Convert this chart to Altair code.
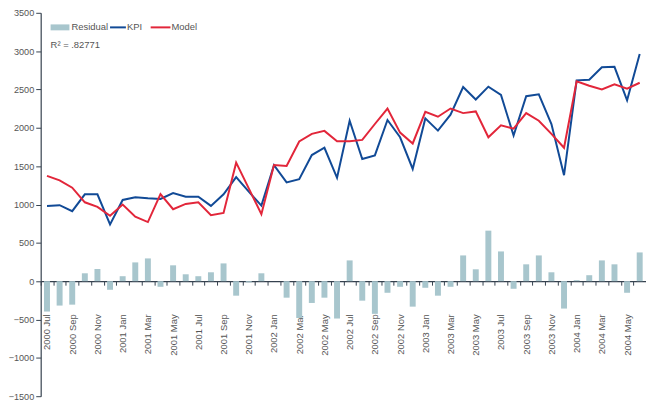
import altair as alt
import pandas as pd

months = [
    "2000 Jul", "2000 Aug", "2000 Sep", "2000 Oct", "2000 Nov", "2000 Dec",
    "2001 Jan", "2001 Feb", "2001 Mar", "2001 Apr", "2001 May", "2001 Jun",
    "2001 Jul", "2001 Aug", "2001 Sep", "2001 Oct", "2001 Nov", "2001 Dec",
    "2002 Jan", "2002 Feb", "2002 Mar", "2002 Apr", "2002 May", "2002 Jun",
    "2002 Jul", "2002 Aug", "2002 Sep", "2002 Oct", "2002 Nov", "2002 Dec",
    "2003 Jan", "2003 Feb", "2003 Mar", "2003 Apr", "2003 May", "2003 Jun",
    "2003 Jul", "2003 Aug", "2003 Sep", "2003 Oct", "2003 Nov", "2003 Dec",
    "2004 Jan", "2004 Feb", "2004 Mar", "2004 Apr", "2004 May", "2004 Jun",
]

kpi = [982, 991, 913, 1133, 1133, 741, 1059, 1094, 1081, 1072, 1150, 1102,
       1102, 982, 1133, 1357, 1167, 986, 1512, 1288, 1331, 1645, 1740, 1348,
       2093, 1593, 1641, 2102, 1877, 1464, 2123, 1964, 2171, 2532, 2369, 2537,
       2429, 1899, 2412, 2438, 2050, 1382, 2619, 2627, 2791, 2795, 2360, 2963]

model = [1374, 1314, 1219, 1029, 969, 853, 999, 840, 771, 1137, 939, 1008,
         1029, 861, 891, 1546, 1210, 874, 1516, 1503, 1822, 1921, 1960, 1826,
         1826, 1843, 2050, 2252, 1938, 1796, 2209, 2145, 2252, 2192, 2214, 1877,
         2033, 1990, 2192, 2093, 1921, 1740, 2606, 2549, 2502, 2567, 2510, 2588]

residual = [-396, -318, -306, 103, 159, -112, 65, 245, 297, -73, 207, 90,
            65, 116, 232, -189, -15, 103, 0, -215, -480, -284, -215, -487,
            271, -254, -426, -151, -73, -332, -86, -189, -73, 336, 155, 659,
            388, -99, 220, 336, 116, -357, 13, 78, 271, 220, -151, 375]

y_ticks = [-1500, -1000, -500, 0, 500, 1000, 1500, 2000, 2500, 3000, 3500]
r2_text = "R\u00b2 = .82771"

BAR_C = "#a8c6cd"
KPI_C = "#114a96"
MOD_C = "#e2263a"
AXIS_C = "#36424f"
LABEL_C = "#555555"
FONT = "Liberation Sans"

W, H = 611, 387

df = pd.DataFrame({"month": months, "kpi": kpi, "model": model, "residual": residual})

x_axis = alt.Axis(
    title=None, labelAngle=-90, tickBand="extent", offset=-H * 1500 / 5000,
    labelExpr="test(/(Jan|Mar|May|Jul|Sep|Nov)$/, datum.value) ? datum.value : ''",
    labelPadding=29, tickSize=4, domainColor=AXIS_C, tickColor=AXIS_C,
    labelColor=LABEL_C, labelFont=FONT, labelFontSize=9.5, labelOverlap=False,
    domainWidth=1.2, tickWidth=1,
)
y_axis = alt.Axis(
    title=None, values=y_ticks, format="d", grid=False, tickSize=5,
    labelPadding=2, domainColor=AXIS_C, tickColor=AXIS_C, labelColor=LABEL_C,
    labelFont=FONT, labelFontSize=9.2, domainWidth=1.2,
)
x_scale = alt.Scale(domain=months, paddingInner=0, paddingOuter=0)
y_scale = alt.Scale(domain=[-1500, 3500], nice=False)

base = alt.Chart(df)
bars = base.mark_bar(size=6, color=BAR_C).encode(
    x=alt.X("month:O", scale=x_scale, axis=x_axis),
    y=alt.Y("residual:Q", scale=y_scale, axis=y_axis),
)
kpi_line = base.mark_line(color=KPI_C, strokeWidth=2).encode(
    x=alt.X("month:O", scale=x_scale, axis=x_axis),
    y=alt.Y("kpi:Q", scale=y_scale, axis=y_axis),
)
model_line = base.mark_line(color=MOD_C, strokeWidth=2).encode(
    x=alt.X("month:O", scale=x_scale, axis=x_axis),
    y=alt.Y("model:Q", scale=y_scale, axis=y_axis),
)

one = alt.Data(values=[{}])
leg_rect = alt.Chart(one).mark_rect(color=BAR_C).encode(
    x=alt.value(10), x2=alt.value(29), y=alt.value(11.7), y2=alt.value(17.7))
leg_kpi = alt.Chart(one).mark_rule(color=KPI_C, strokeWidth=2).encode(
    x=alt.value(70), x2=alt.value(86), y=alt.value(14.7))
leg_mod = alt.Chart(one).mark_rule(color=MOD_C, strokeWidth=2).encode(
    x=alt.value(111), x2=alt.value(131), y=alt.value(14.7))
txt = dict(align="left", baseline="middle", font=FONT, fontSize=9.5, color=LABEL_C)
t1 = alt.Chart(one).mark_text(text="Residual", **txt).encode(x=alt.value(31), y=alt.value(14.7))
t2 = alt.Chart(one).mark_text(text="KPI", **txt).encode(x=alt.value(87), y=alt.value(14.7))
t3 = alt.Chart(one).mark_text(text="Model", **txt).encode(x=alt.value(132), y=alt.value(14.7))
t4 = alt.Chart(one).mark_text(text=r2_text, **txt).encode(x=alt.value(10), y=alt.value(33))

chart = alt.layer(bars, kpi_line, model_line, leg_rect, leg_kpi, leg_mod, t1, t2, t3, t4).properties(
    width=W, height=H,
    autosize=alt.AutoSizeParams(type="none"),
    padding={"left": 33, "top": 3, "right": 0, "bottom": 5},
    background="white",
).configure_view(stroke=None)

chart.save("out.html", embed_options={"renderer": "svg", "actions": False})
